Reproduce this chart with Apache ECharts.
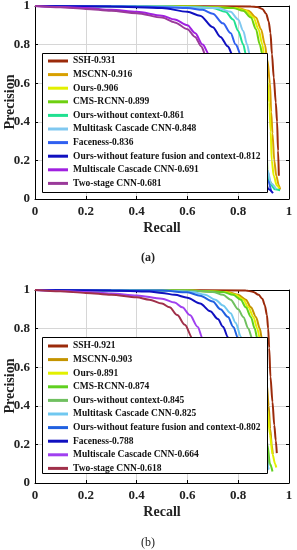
<!DOCTYPE html>
<html><head><meta charset="utf-8">
<script src="https://cdn.jsdelivr.net/npm/echarts@6/dist/echarts.min.js"></script>
<style>html,body{margin:0;padding:0;background:#fff}#c{width:297px;height:550px}</style>
</head><body><div id="c"></div>
<script>
// ---- Chart (a) ----
const namesA = ['SSH-0.931','MSCNN-0.916','Ours-0.906','CMS-RCNN-0.899','Ours-without context-0.861','Multitask Cascade CNN-0.848','Faceness-0.836','Ours-without feature fusion and context-0.812','Multiscale Cascade CNN-0.691','Two-stage CNN-0.681'];
const colorsA = ['#9b2a0a','#d8a000','#e2f000','#6ed010','#20e090','#80c8f0','#3060f0','#1010c0','#a020e0','#9a3a9a'];
const a_SSH = [[0,1],[0.5,1],[0.85,0.998],[0.875,0.995],[0.895,0.985],[0.91,0.96],[0.92,0.92],[0.927,0.86],[0.933,0.75],[0.94,0.63],[0.948,0.5],[0.953,0.4],[0.957,0.25],[0.96,0.12]];
const a_MSCNN = [[0,1],[0.6,0.998],[0.8,0.99],[0.84,0.975],[0.87,0.94],[0.89,0.88],[0.905,0.8],[0.915,0.72],[0.925,0.6],[0.93,0.45],[0.935,0.34],[0.942,0.2],[0.95,0.12],[0.96,0.07],[0.965,0.05]];
const a_Ours = [[0,1],[0.6,0.998],[0.79,0.99],[0.83,0.975],[0.86,0.94],[0.88,0.88],[0.895,0.8],[0.905,0.72],[0.915,0.62],[0.922,0.5],[0.928,0.35],[0.932,0.2],[0.94,0.12],[0.952,0.07],[0.962,0.055]];
const a_CMS = [[0,1],[0.6,0.998],[0.78,0.99],[0.82,0.975],[0.85,0.94],[0.87,0.88],[0.885,0.8],[0.895,0.75],[0.905,0.6],[0.91,0.4],[0.912,0.25],[0.915,0.15],[0.925,0.09],[0.935,0.07]];
const a_OursNoCtx = [[0,1],[0.5,0.998],[0.7,0.99],[0.75,0.97],[0.78,0.93],[0.8,0.87],[0.82,0.8],[0.83,0.75],[0.85,0.6],[0.88,0.4],[0.9,0.25],[0.91,0.16],[0.925,0.08],[0.945,0.05],[0.965,0.045]];
const a_Multitask = [[0,1],[0.5,0.998],[0.72,0.99],[0.77,0.97],[0.8,0.93],[0.82,0.87],[0.835,0.8],[0.845,0.75],[0.86,0.6],[0.88,0.45],[0.9,0.3],[0.915,0.15],[0.93,0.08],[0.95,0.05]];
const a_Faceness = [[0,1],[0.4,0.998],[0.6,0.99],[0.66,0.98],[0.7,0.96],[0.74,0.91],[0.77,0.86],[0.79,0.8],[0.81,0.75],[0.83,0.6],[0.86,0.45],[0.88,0.3],[0.9,0.18],[0.915,0.1],[0.93,0.04]];
const a_OursNoFF = [[0,1],[0.3,0.998],[0.5,0.99],[0.6,0.97],[0.65,0.95],[0.7,0.89],[0.73,0.84],[0.76,0.79],[0.776,0.75],[0.8,0.6],[0.85,0.4],[0.88,0.25],[0.9,0.12],[0.92,0.05],[0.937,0.03]];
const a_Multiscale = [[0,1],[0.1,0.995],[0.2,0.99],[0.3,0.98],[0.4,0.97],[0.5,0.95],[0.55,0.93],[0.6,0.9],[0.63,0.86],[0.66,0.8],[0.685,0.75],[0.7,0.6],[0.72,0.4],[0.73,0.2],[0.74,0.1]];
const a_TwoStage = [[0,1],[0.1,0.993],[0.2,0.985],[0.3,0.975],[0.4,0.963],[0.5,0.94],[0.55,0.915],[0.6,0.88],[0.63,0.84],[0.655,0.79],[0.67,0.75],[0.69,0.6],[0.71,0.4],[0.72,0.2],[0.73,0.1]];
const dataA = [a_SSH,a_MSCNN,a_Ours,a_CMS,a_OursNoCtx,a_Multitask,a_Faceness,a_OursNoFF,a_Multiscale,a_TwoStage];

// ---- Chart (b) ----
const namesB = ['SSH-0.921','MSCNN-0.903','Ours-0.891','CMS-RCNN-0.874','Ours-without context-0.845','Multitask Cascade CNN-0.825','Ours-without feature fusion and context-0.802','Faceness-0.788','Multiscale Cascade CNN-0.664','Two-stage CNN-0.618'];
const colorsB = ['#9b2a0a','#c49400','#e2f000','#60d020','#70c060','#70c8f0','#2060e0','#1010c0','#a040f0','#a0304a'];
const b_SSH = [[0,1],[0.5,1],[0.83,0.998],[0.86,0.99],[0.88,0.975],[0.895,0.955],[0.905,0.92],[0.913,0.87],[0.918,0.8],[0.922,0.7],[0.927,0.55],[0.935,0.42],[0.942,0.3],[0.948,0.22],[0.952,0.155]];
const b_MSCNN = [[0,1],[0.6,0.998],[0.76,0.99],[0.8,0.975],[0.83,0.95],[0.85,0.91],[0.87,0.86],[0.885,0.8],[0.893,0.75],[0.903,0.65],[0.912,0.52],[0.92,0.4],[0.926,0.28],[0.932,0.2],[0.936,0.15]];
const b_Ours = [[0,1],[0.6,0.998],[0.75,0.99],[0.79,0.975],[0.82,0.95],[0.84,0.91],[0.86,0.86],[0.875,0.8],[0.885,0.75],[0.895,0.62],[0.905,0.5],[0.915,0.38],[0.925,0.25],[0.935,0.15],[0.945,0.1],[0.95,0.08]];
const b_CMS = [[0,1],[0.6,0.998],[0.74,0.99],[0.78,0.975],[0.81,0.95],[0.83,0.91],[0.85,0.86],[0.865,0.8],[0.875,0.75],[0.885,0.62],[0.895,0.48],[0.905,0.35],[0.915,0.2],[0.925,0.1],[0.935,0.06]];
const b_OursNoCtx = [[0,1],[0.6,0.998],[0.7,0.99],[0.74,0.975],[0.77,0.95],[0.8,0.9],[0.82,0.86],[0.84,0.8],[0.855,0.75],[0.87,0.6],[0.885,0.45],[0.9,0.3],[0.91,0.18],[0.92,0.09]];
const b_Multitask = [[0,1],[0.5,0.998],[0.62,0.99],[0.67,0.975],[0.71,0.95],[0.74,0.92],[0.77,0.88],[0.79,0.83],[0.81,0.76],[0.83,0.62],[0.86,0.45],[0.89,0.25],[0.91,0.12],[0.92,0.07]];
const b_OursNoFF = [[0,1],[0.5,0.997],[0.6,0.988],[0.65,0.97],[0.7,0.94],[0.73,0.9],[0.76,0.86],[0.78,0.81],[0.8,0.75],[0.82,0.6],[0.85,0.42],[0.88,0.25],[0.9,0.12],[0.915,0.065]];
const b_Faceness = [[0,1],[0.3,0.998],[0.45,0.992],[0.5,0.985],[0.55,0.975],[0.6,0.96],[0.65,0.93],[0.69,0.89],[0.72,0.85],[0.74,0.81],[0.76,0.755],[0.78,0.65],[0.82,0.45],[0.86,0.3],[0.89,0.15],[0.91,0.06]];
const b_Multiscale = [[0,1],[0.1,0.995],[0.2,0.99],[0.3,0.982],[0.4,0.972],[0.5,0.955],[0.55,0.935],[0.58,0.91],[0.61,0.87],[0.64,0.81],[0.66,0.75],[0.68,0.6],[0.7,0.4],[0.72,0.2],[0.73,0.1]];
const b_TwoStage = [[0,1],[0.1,0.993],[0.2,0.985],[0.3,0.975],[0.4,0.962],[0.45,0.95],[0.5,0.93],[0.53,0.91],[0.56,0.87],[0.59,0.82],[0.62,0.75],[0.64,0.6],[0.66,0.4],[0.67,0.2],[0.68,0.1]];
const dataB = [b_SSH,b_MSCNN,b_Ours,b_CMS,b_OursNoCtx,b_Multitask,b_OursNoFF,b_Faceness,b_Multiscale,b_TwoStage];

const FONT = "'Liberation Serif','Times New Roman',serif";
const chart = echarts.init(document.getElementById('c'), null, {renderer:'canvas'});

function xAxes(g){
  return [{
    type:'value', gridIndex:g, min:0, max:1, interval:0.2,
    name:'Recall', nameLocation:'middle', nameGap:22, nameMoveOverlap:false,
    nameTextStyle:{fontFamily:FONT,fontWeight:'bold',fontSize:14,color:'#222'},
    axisLine:{show:true,onZero:false,lineStyle:{color:'#000',width:1}},
    axisTick:{show:true,inside:true,length:3,lineStyle:{color:'#000'}},
    axisLabel:{fontFamily:FONT,fontWeight:'bold',fontSize:13,color:'#222',margin:6},
    splitLine:{show:true,lineStyle:{color:'#d6d6d6',width:1}}
  },{
    type:'value', gridIndex:g, min:0, max:1, interval:0.2, position:'top',
    axisLine:{show:true,onZero:false,lineStyle:{color:'#000',width:1}},
    axisTick:{show:true,inside:true,length:3,lineStyle:{color:'#000'}},
    axisLabel:{show:false}, splitLine:{show:false}
  }];
}
function yAxes(g){
  return [{
    type:'value', gridIndex:g, min:0, max:1, interval:0.2,
    axisLine:{show:true,onZero:false,lineStyle:{color:'#000',width:1}},
    axisTick:{show:true,inside:true,length:3,lineStyle:{color:'#000'}},
    axisLabel:{fontFamily:FONT,fontWeight:'bold',fontSize:13,color:'#222',margin:5},
    splitLine:{show:true,lineStyle:{color:'#d6d6d6',width:1}}
  },{
    type:'value', gridIndex:g, min:0, max:1, interval:0.2, position:'right',
    axisLine:{show:true,onZero:false,lineStyle:{color:'#000',width:1}},
    axisTick:{show:true,inside:true,length:3,lineStyle:{color:'#000'}},
    axisLabel:{show:false}, splitLine:{show:false}
  }];
}
function mkSeries(names, colors, datas, g){
  return names.map((n,i)=>({
    name:n, type:'line', xAxisIndex:g*2, yAxisIndex:g*2, data:datas[i],
    showSymbol:false, smooth:0.3, smoothMonotone:'x', z:2,
    lineStyle:{color:colors[i],width:2}, itemStyle:{color:colors[i]},
    emphasis:{disabled:true}, animation:false
  }));
}
function mkLegend(names, top){
  return {
    data:names, orient:'vertical', left:48, top:top, padding:0, itemGap:1.6, z:10,
    icon:'rect', itemWidth:20, itemHeight:3, selectedMode:false,
    textStyle:{fontFamily:FONT,fontWeight:'bold',fontSize:9.5,color:'#111',lineHeight:12}
  };
}

chart.setOption({
  animation:false,
  grid:[
    {left:35, top:6, width:254, height:193, show:false, outerBoundsMode:'none', containLabel:false},
    {left:35, top:290, width:254, height:193, show:false, outerBoundsMode:'none', containLabel:false}
  ],
  xAxis:[...xAxes(0), ...xAxes(1)],
  yAxis:[...yAxes(0), ...yAxes(1)],
  legend:[mkLegend(namesA,55), mkLegend(namesB,340)],
  graphic:{z:5, elements:[
    {type:'rect', z:5, shape:{x:42.5,y:53.5,width:225,height:139}, style:{fill:'#fff',stroke:'#000',lineWidth:1}},
    {type:'rect', z:5, shape:{x:42.5,y:337.5,width:225,height:136}, style:{fill:'#fff',stroke:'#000',lineWidth:1}},
    {type:'text', z:5, style:{text:'(a)', x:148, y:258, align:'center', verticalAlign:'middle', font:"bold 12px 'Liberation Serif', serif", fill:'#222'}},
    {type:'text', z:5, style:{text:'(b)', x:148, y:543, align:'center', verticalAlign:'middle', font:"12px 'Liberation Serif', serif", fill:'#222'}},
    {type:'text', z:5, rotation:Math.PI/2, x:10, y:102, style:{text:'Precision', align:'center', verticalAlign:'middle', font:"bold 14px 'Liberation Serif', serif", fill:'#222'}},
    {type:'text', z:5, rotation:Math.PI/2, x:10, y:386, style:{text:'Precision', align:'center', verticalAlign:'middle', font:"bold 14px 'Liberation Serif', serif", fill:'#222'}}
  ]},
  series:[...mkSeries(namesA,colorsA,dataA,0), ...mkSeries(namesB,colorsB,dataB,1)]
});
</script></body></html>
